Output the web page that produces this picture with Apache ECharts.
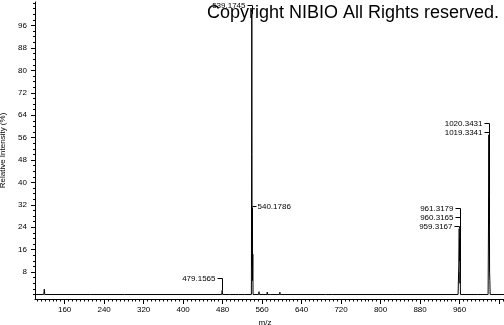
<!DOCTYPE html>
<html><head><meta charset="utf-8">
<script src="https://cdn.jsdelivr.net/npm/echarts@6/dist/echarts.min.js"></script>
<style>html,body{margin:0;padding:0;background:#fff}#c{width:504px;height:325px}</style>
</head><body><div id="c"></div>
<script>
// ---- spectrum (profile) data: m/z and relative intensity (%) ----
const specMz = [100, 117.8, 118.8, 119.8, 211.8, 212.8, 213.8, 281, 282, 283,
  478.2, 479.16, 480.2, 493.5, 494.5, 495.5, 512.5, 513.5, 514.5, 524, 525, 526,
  538.3, 538.8, 539.17, 539.5, 539.8, 540.18, 540.6, 541.18, 541.7,
  553, 553.7, 554.5, 563.8, 564.4, 565, 570, 570.5, 571.2, 577.5, 578, 578.7, 595.3, 596, 596.8,
  688, 689, 690, 702, 703, 704, 825, 826, 827,
  957, 958.4, 959.32, 959.8, 960.32, 960.8, 961.32, 961.8,
  995.6, 996.6, 997.6,
  1017.8, 1018.7, 1019.33, 1019.8, 1020.34, 1020.8, 1021.33, 1022, 1050];
const specInt = [0, 0, 1.9, 0, 0, 0.5, 0, 0, 0.5, 0,
  0, 1.5, 0, 0, 0.4, 0, 0, 0.5, 0, 0, 0.6, 0,
  0, 50, 100, 48, 10, 31, 5, 14.4, 0,
  0, 1.0, 0, 0, 0.6, 0, 0, 0.9, 0, 0, 0.5, 0, 0, 0.8, 0,
  0, 0.3, 0, 0, 0.4, 0, 0, 0.3, 0,
  0, 10.5, 23.5, 12, 20, 4, 8, 0,
  0, 0.3, 0,
  0, 27.7, 57, 25, 35, 8, 5, 0, 0];

// ---- peak annotations ----
const annotText  = ['479.1565', '539.1745', '540.1786', '959.3167', '960.3165', '961.3179', '1019.3341', '1020.3431'];
const annotMz    = [479.1565, 539.1745, 540.1786, 959.3167, 960.3165, 961.3179, 1019.3341, 1020.3431];
const annotLevel = [6.0, 103.4, 31.6, 24.4, 27.6, 30.8, 58.1, 61.2];

// ---- axis ticks ----
const xTickLabels = [160, 240, 320, 400, 480, 560, 640, 720, 800, 880, 960];
const yTickLabels = [8, 16, 24, 32, 40, 48, 56, 64, 72, 80, 88, 96];

const FONT = "'Liberation Sans Narrow', 'Arial Narrow', 'Liberation Sans', Arial, sans-serif";
const X_MIN = 100, X_MAX = 1050, Y_MIN = -1.6, Y_MAX = 104.4;
function range(a, b, s) { const r = []; for (let v = a; v <= b + 1e-9; v += s) r.push(v); return r; }
const xMajor = range(160, 1040, 80);
const xMinor = range(104, 1048, 8);
const yMinor = range(0, 104, 2);

const specData = specMz.map((m, i) => [m, specInt[i]]);
function localMax(lo, hi) {
  let mx = 0;
  for (let i = 0; i < specMz.length; i++) if (specMz[i] >= lo && specMz[i] <= hi) mx = Math.max(mx, specInt[i]);
  return mx;
}
const annotData = annotMz.map((m, i) => [m, annotLevel[i], i]);

const chart = echarts.init(document.getElementById('c'), null, { renderer: 'canvas' });
const axisCommon = { type: 'value', splitLine: { show: false } };
chart.setOption({
  animation: false,
  backgroundColor: '#fff',
  grid: { left: 35, right: 0, top: 2, bottom: 26, containLabel: false, outerBoundsMode: 'none' },
  xAxis: [
    Object.assign({}, axisCommon, {
      min: X_MIN, max: X_MAX, position: 'bottom',
      axisLine: { show: true, onZero: false, lineStyle: { color: '#000', width: 1 } },
      axisTick: { show: true, customValues: xMajor, length: 5, lineStyle: { color: '#000' } },
      axisLabel: { customValues: xTickLabels, fontSize: 8, fontFamily: FONT, color: '#000', margin: 7 },
      name: 'm/z', nameLocation: 'middle', nameGap: 16,
      nameTextStyle: { fontSize: 8, fontFamily: FONT, color: '#000', padding: [0, 9, 0, 0] }
    }),
    Object.assign({}, axisCommon, {
      min: X_MIN, max: X_MAX, position: 'bottom',
      axisLine: { show: false, onZero: false },
      axisTick: { show: true, customValues: xMinor, length: 2.5, lineStyle: { color: '#000' } },
      axisLabel: { show: false }
    })
  ],
  yAxis: [
    Object.assign({}, axisCommon, {
      min: Y_MIN, max: Y_MAX, position: 'left',
      axisLine: { show: true, onZero: false, lineStyle: { color: '#000', width: 1 } },
      axisTick: { show: true, customValues: yTickLabels, length: 4, lineStyle: { color: '#000' } },
      axisLabel: { customValues: yTickLabels, fontSize: 8, fontFamily: FONT, color: '#000', margin: 8 },
      name: 'Relative Intensity (%)', nameLocation: 'middle', nameGap: 22, nameRotate: 90,
      nameTextStyle: { fontSize: 8, fontFamily: FONT, color: '#000' }
    }),
    Object.assign({}, axisCommon, {
      min: Y_MIN, max: Y_MAX, position: 'left',
      axisLine: { show: false, onZero: false },
      axisTick: { show: true, customValues: yMinor, length: 2, lineStyle: { color: '#000' } },
      axisLabel: { show: false }
    })
  ],
  graphic: [{
    type: 'text', x: 207, y: 13, z: 10,
    style: { text: 'Copyright NIBIO All Rights reserved.', fontSize: 18, fontFamily: "'Liberation Sans', Arial, sans-serif",
      fill: '#000', align: 'left', verticalAlign: 'middle' }
  }],
  series: [
    {
      type: 'line', xAxisIndex: 0, yAxisIndex: 0, data: specData,
      symbol: 'none', lineStyle: { color: '#000', width: 1 }, z: 2
    },
    {
      type: 'custom', xAxisIndex: 0, yAxisIndex: 0, data: annotData, z: 3,
      renderItem: function (params, api) {
        const mz = api.value(0), lvl = api.value(1), idx = api.value(2);
        const p = api.coord([mz, lvl]);
        const peak = localMax(mz - 0.6, mz + 0.6);
        const pk = api.coord([mz, peak]);
        const leftTaller = localMax(mz - 1.5, mz - 0.3) > lvl;
        const x = Math.round(p[0]) + 0.5, y = Math.round(p[1]) + 0.5;
        const children = [];
        if (leftTaller) {
          children.push({ type: 'polyline', shape: { points: [[x, y], [x + 4, y]] }, style: { stroke: '#000', lineWidth: 1, fill: null } });
          children.push({ type: 'text', x: x + 5, y: y, style: { text: annotText[idx], fontSize: 8, fontFamily: FONT, fill: '#000', align: 'left', verticalAlign: 'middle' } });
        } else {
          children.push({ type: 'polyline', shape: { points: [[x - 5, y], [x, y], [x, Math.max(y, pk[1])]] }, style: { stroke: '#000', lineWidth: 1, fill: null } });
          children.push({ type: 'text', x: x - 7, y: y, style: { text: annotText[idx], fontSize: 8, fontFamily: FONT, fill: '#000', align: 'right', verticalAlign: 'middle' } });
        }
        return { type: 'group', children: children };
      }
    }
  ]
});
</script>
</body></html>
